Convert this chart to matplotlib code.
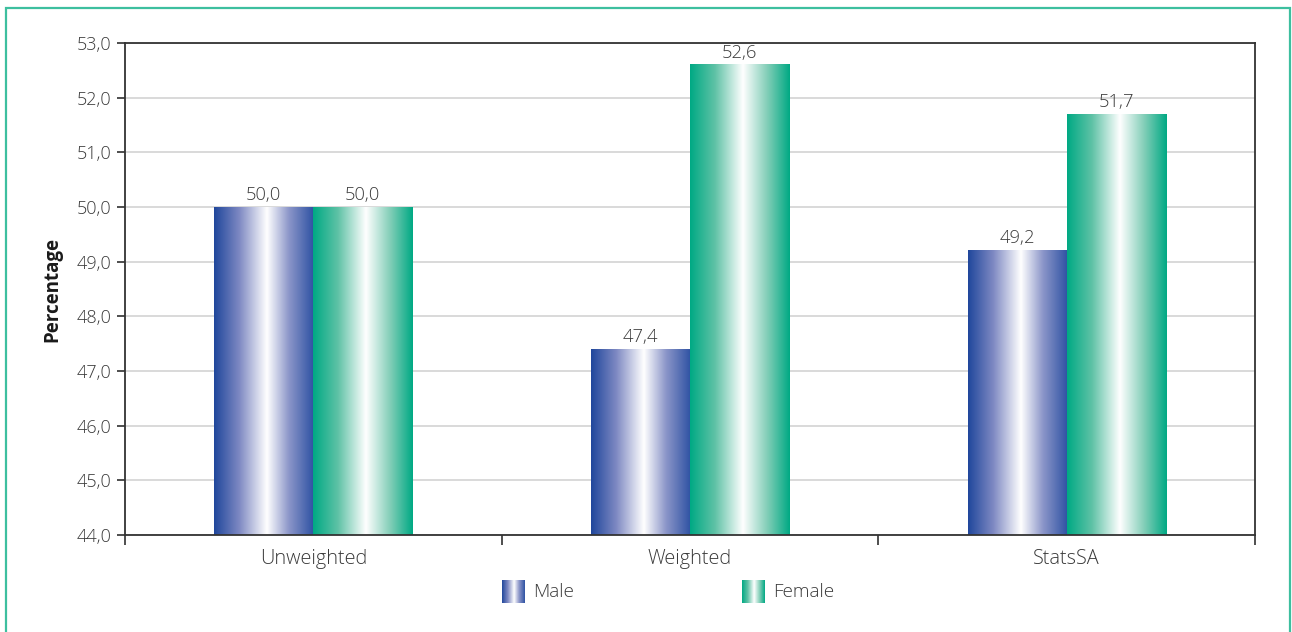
import numpy as np
import matplotlib.pyplot as plt
from matplotlib.colors import LinearSegmentedColormap
from matplotlib.patches import Rectangle

categories = ["Unweighted", "Weighted", "StatsSA"]
male = [50.0, 47.4, 49.2]
female = [50.0, 52.6, 51.7]
series_names = ["Male", "Female"]

plt.rcParams['font.family'] = ['Open Sans', 'DejaVu Sans']
plt.rcParams['font.weight'] = 'light'
text_color = '#3a3a3a'

# horizontal "cylinder" shading: dark edges, white highlight in the middle
male_cmap = LinearSegmentedColormap.from_list(
    'male', [(0, '#20479c'), (0.25, '#7d88c2'), (0.53, '#ffffff'), (0.75, '#8c96c9'), (1, '#2e52a3')])
female_cmap = LinearSegmentedColormap.from_list(
    'female', [(0, '#00a984'), (0.25, '#5fc2a6'), (0.53, '#ffffff'), (0.78, '#7fcdb6'), (1, '#00a984')])
grad = np.linspace(0, 1, 256).reshape(1, -1)

fig = plt.figure(figsize=(12.92, 6.32), dpi=100)
fig.patches.append(Rectangle((6 / 1292, -0.01), 1284 / 1292, 1 - 8 / 632 + 0.01,
                             transform=fig.transFigure, fill=False,
                             edgecolor='#3dbf9f', linewidth=1.6))

ax = fig.add_axes([125 / 1292, 1 - 535 / 632, 1130 / 1292, 492 / 632])
ymin, ymax = 44.0, 53.0
width = 0.263


def gradient_bar(x0, value, cmap):
    ax.imshow(grad, cmap=cmap, extent=(x0, x0 + width, ymin, value),
              aspect='auto', interpolation='bilinear', zorder=2)
    ax.text(x0 + width / 2, value + 0.06, f"{value:.1f}".replace('.', ','),
            ha='center', va='bottom', fontsize=13.2, color=text_color)


for i in range(len(categories)):
    gradient_bar(i - width, male[i], male_cmap)
    gradient_bar(i, female[i], female_cmap)

ax.set_xlim(-0.5, len(categories) - 0.5)
ax.set_ylim(ymin, ymax)
ax.set_yticks(np.arange(44, 54, 1))
ax.set_yticklabels([f"{v:.1f}".replace('.', ',') for v in np.arange(44, 54, 1)])
ax.yaxis.grid(True, color='#d9d9d9', linewidth=1.4, zorder=0)
ax.set_axisbelow(True)

ax.set_xticks(range(len(categories)))
ax.set_xticklabels(categories)
ax.set_xticks(np.arange(-0.5, len(categories), 1), minor=True)
ax.tick_params(axis='x', which='major', length=0, pad=10, labelsize=14.3)
ax.tick_params(axis='x', which='minor', length=7, width=1.3, color='#404040')
ax.tick_params(axis='y', length=6, width=1.3, color='#404040', pad=4, labelsize=13)
ax.tick_params(labelcolor=text_color)

for s in ax.spines.values():
    s.set_color('#333333')
    s.set_linewidth(1.3)

ax.set_ylabel("Percentage", fontsize=13.5, fontweight='bold', color='#1a1a1a', labelpad=10)

# legend swatches drawn with the same gradient
for x_px, cmap, name in [(502, male_cmap, series_names[0]), (742, female_cmap, series_names[1])]:
    sw = fig.add_axes([x_px / 1292, 1 - 603 / 632, 23 / 1292, 23 / 632])
    sw.imshow(grad, cmap=cmap, aspect='auto', interpolation='bilinear')
    sw.axis('off')
    fig.text((x_px + 31) / 1292, 1 - 592 / 632, name, ha='left', va='center',
             fontsize=13.6, color=text_color)

fig.savefig('out.png', dpi=100)
